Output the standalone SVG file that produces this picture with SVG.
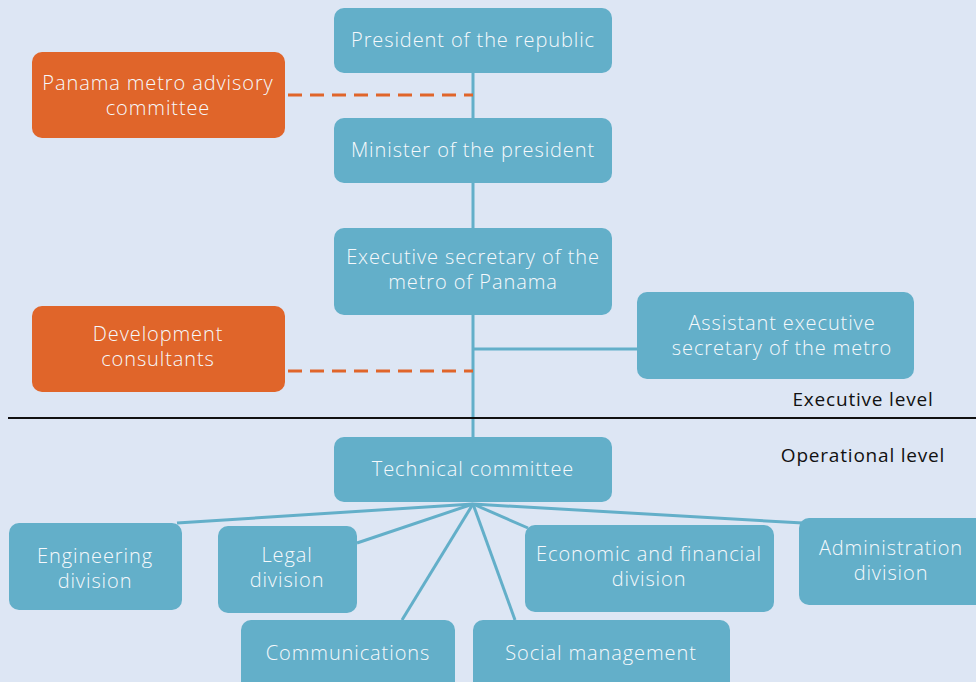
<svg xmlns="http://www.w3.org/2000/svg" width="976" height="682" viewBox="0 0 976 682">
<style>
.b{fill:#63afc9}
.o{fill:#e0652a}
.t{font-family:"Open Sans","Liberation Sans",sans-serif;font-weight:300;font-size:20px;letter-spacing:0.9px;fill:#f6f9fc;text-anchor:middle;dominant-baseline:central}
.l{font-family:"Open Sans","Liberation Sans",sans-serif;font-weight:400;font-size:19px;letter-spacing:0.8px;fill:#111;text-anchor:middle;dominant-baseline:central}
.c{stroke:#63afc9;stroke-width:3;fill:none}
.d{stroke:#e0652a;stroke-width:3;fill:none;stroke-dasharray:14 8}
</style>
<rect width="976" height="682" fill="#dde6f4"/>
<g id="connectors">
<line class="c" x1="473" y1="73" x2="473" y2="437"/>
<line class="c" x1="473" y1="349" x2="637" y2="349"/>
<line class="d" x1="288" y1="95" x2="473" y2="95"/>
<line class="d" x1="288" y1="371" x2="473" y2="371"/>
<line class="c" x1="473" y1="504" x2="177" y2="523"/>
<line class="c" x1="473" y1="504" x2="357" y2="543"/>
<line class="c" x1="473" y1="504" x2="402" y2="620"/>
<line class="c" x1="473" y1="504" x2="515" y2="620"/>
<line class="c" x1="473" y1="504" x2="528" y2="528"/>
<line class="c" x1="473" y1="504" x2="803" y2="523"/>
</g>
<line x1="8" y1="418" x2="976" y2="418" stroke="#111" stroke-width="2"/>
<g id="president"><rect class="b" x="334" y="8" width="278" height="65" rx="10"/><text class="t" x="473" y="39">President of the republic</text></g>
<g id="advisory"><rect class="o" x="32" y="52" width="253" height="86" rx="10"/><text class="t" x="158" y="82">Panama metro advisory</text><text class="t" x="158" y="107">committee</text></g>
<g id="minister"><rect class="b" x="334" y="118" width="278" height="65" rx="10"/><text class="t" x="473" y="149">Minister of the president</text></g>
<g id="execsec"><rect class="b" x="334" y="228" width="278" height="87" rx="10"/><text class="t" x="473" y="256">Executive secretary of the</text><text class="t" x="473" y="281">metro of Panama</text></g>
<g id="devcons"><rect class="o" x="32" y="306" width="253" height="86" rx="10"/><text class="t" x="158" y="333">Development</text><text class="t" x="158" y="358">consultants</text></g>
<g id="assistant"><rect class="b" x="637" y="292" width="277" height="87" rx="10"/><text class="t" x="782" y="322">Assistant executive</text><text class="t" x="782" y="347">secretary of the metro</text></g>
<g id="execlevel"><text class="l" x="863" y="399">Executive level</text></g>
<g id="oplevel"><text class="l" x="863" y="455">Operational level</text></g>
<g id="technical"><rect class="b" x="334" y="437" width="278" height="65" rx="10"/><text class="t" x="473" y="468">Technical committee</text></g>
<g id="engineering"><rect class="b" x="9" y="523" width="173" height="87" rx="10"/><text class="t" x="95" y="555">Engineering</text><text class="t" x="95" y="580">division</text></g>
<g id="legal"><rect class="b" x="218" y="526" width="139" height="87" rx="10"/><text class="t" x="287" y="554">Legal</text><text class="t" x="287" y="579">division</text></g>
<g id="communications"><rect class="b" x="241" y="620" width="214" height="72" rx="10"/><text class="t" x="348" y="652">Communications</text></g>
<g id="social"><rect class="b" x="473" y="620" width="257" height="72" rx="10"/><text class="t" x="601" y="652">Social management</text></g>
<g id="economic"><rect class="b" x="525" y="525" width="249" height="87" rx="10"/><text class="t" x="649" y="553">Economic and financial</text><text class="t" x="649" y="578">division</text></g>
<g id="administration"><rect class="b" x="799" y="518" width="190" height="87" rx="10"/><text class="t" x="891" y="547">Administration</text><text class="t" x="891" y="572">division</text></g>
</svg>
